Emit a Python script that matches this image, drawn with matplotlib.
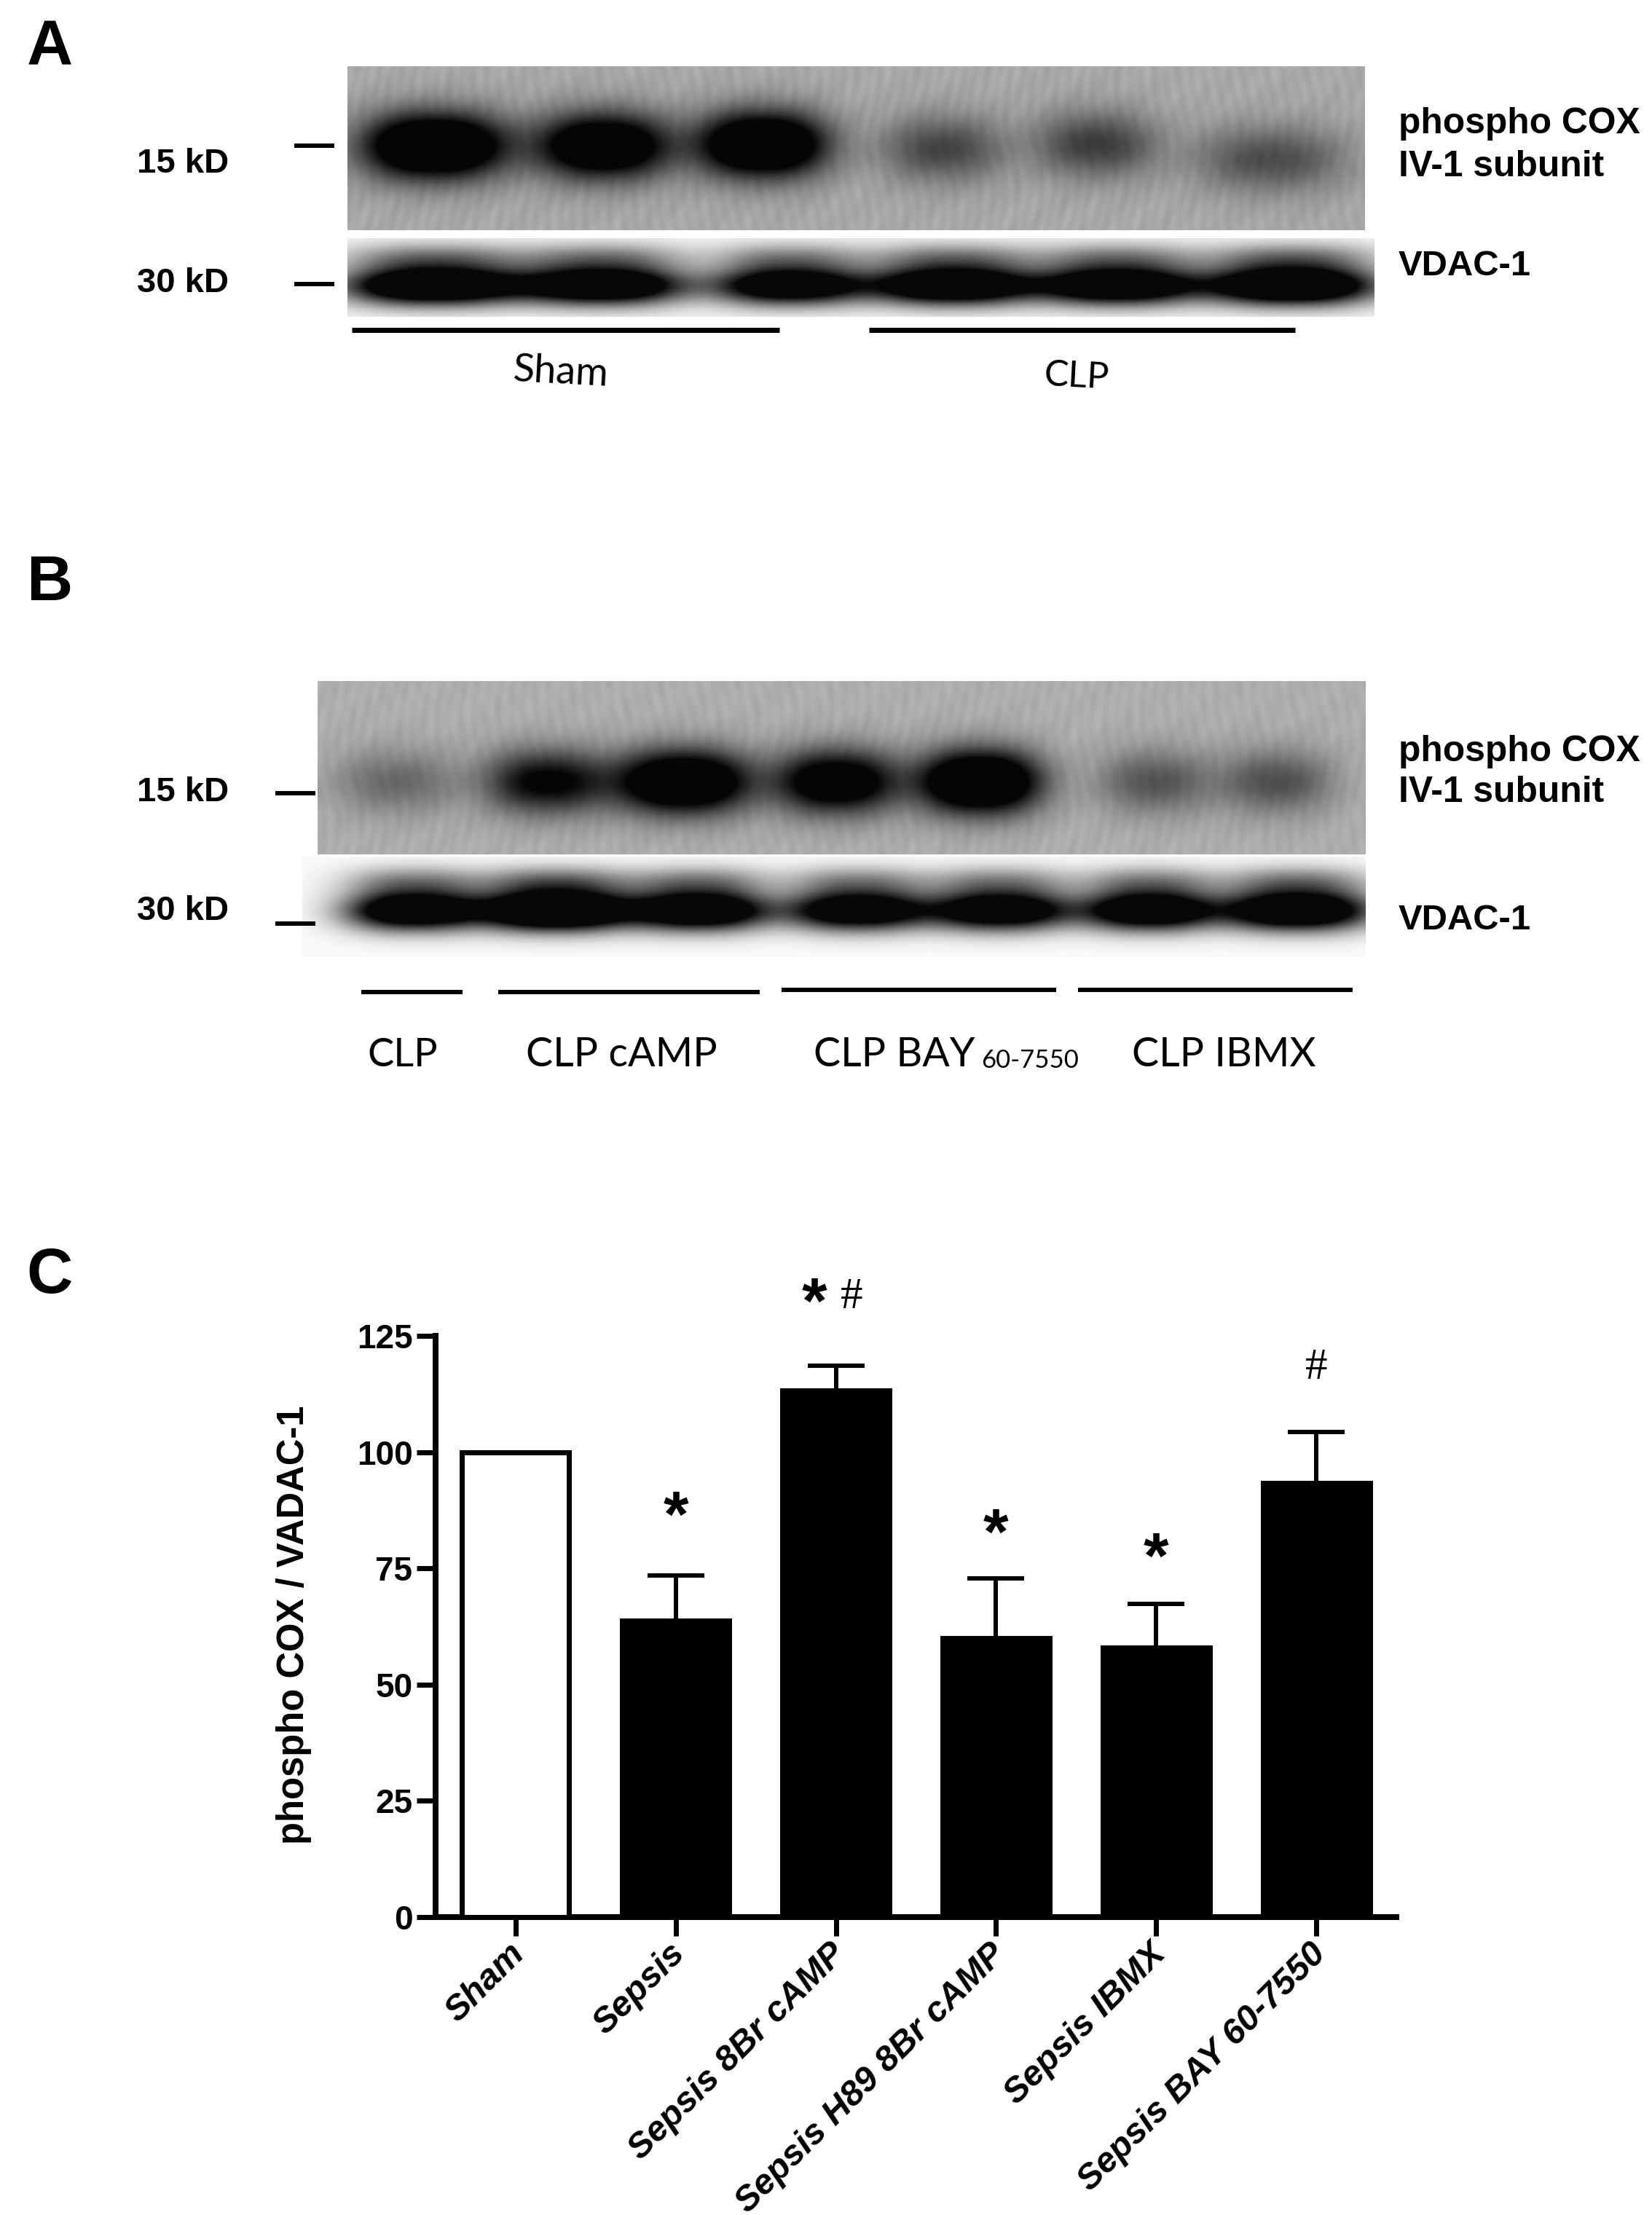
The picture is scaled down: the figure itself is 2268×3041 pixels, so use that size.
import numpy as np
import matplotlib
matplotlib.use("Agg")
import matplotlib.pyplot as plt
from matplotlib.transforms import ScaledTranslation

# ---- chart values (panel C) ----
groups = ["Sham", "Sepsis", "Sepsis 8Br cAMP", "Sepsis H89 8Br cAMP", "Sepsis IBMX", "Sepsis BAY 60-7550"]
means = [100, 63.8, 113.3, 60, 58, 93.4]
err_top = [100, 73.5, 118.6, 72.8, 67.3, 104.3]
bar_fill = ["white", "black", "black", "black", "black", "black"]
y_ticks = [0, 25, 50, 75, 100, 125]
star_groups = [1, 2, 3, 4]
star_y = [85.5, 131.5, 81.8, 76.6]
hash_groups = [2, 5]
hash_y = [133.3, 118.0]

# ---- blot lane intensities ----
a_top_amp = [1.7, 1.5, 1.65, 0.6, 0.65, 0.55]
a_vdac_amp = [1.6, 1.5, 1.4, 1.55, 1.5, 1.65]
b_top_amp = [0.4, 1.05, 1.6, 1.35, 1.7, 0.52, 0.55]
b_vdac_amp = [1.45, 1.8, 1.5, 1.4, 1.4, 1.45, 1.55]

# ---- layout (pixels of the 2268x3041 page) ----
W, H = 2268, 3041
DPI = 100
PT = 72 / DPI
a_top_x = [596, 828, 1047, 1294, 1504, 1744]
a_top_yc = [200, 200, 198, 204, 198, 218]
a_top_sx = [100, 92, 90, 85, 85, 105]
a_vdac_x = [596, 828, 1083, 1308, 1534, 1773]
a_vdac_sx = [122, 112, 102, 112, 108, 116]
b_top_x = [545, 750, 938, 1148, 1345, 1585, 1752]
b_top_sx = [85, 84, 92, 84, 84, 78, 78]
b_vdac_x = [567, 763, 960, 1177, 1373, 1577, 1780]
b_vdac_sx = [92, 102, 94, 96, 96, 90, 102]

SANS = "Liberation Sans"
SERIF = "Liberation Serif"
LAB = "Lato"

fig = plt.figure(figsize=(W / DPI, H / DPI), dpi=DPI, facecolor="white")
page = fig.add_axes([0, 0, 1, 1])
page.set_xlim(0, W)
page.set_ylim(H, 0)
page.axis("off")


def blot(box, xs, ycs, sxs, amps, sy, bg, upper=0.0, grain=0.0):
    x0, x1, y0, y1 = box
    X, Y = np.meshgrid(np.arange(x0, x1), np.arange(y0, y1))
    d = np.zeros(X.shape)
    for xc, yc, sx, a in zip(xs, ycs, sxs, amps):
        gx = np.exp(-np.abs((X - xc) / sx) ** 2.4)
        d += a * gx * np.exp(-((Y - yc) / sy) ** 2)
        if upper:
            d += upper * a * gx * np.exp(-((Y - yc + 1.5 * sy) / (0.8 * sy)) ** 2)
    # soft mottling of the film background
    tex = grain * (np.sin(X * 0.23 + 2.5 * np.sin(Y * 0.043)) * np.sin(Y * 0.061 + X * 0.017)
                   + np.sin(X * 0.37 + 3.1 * np.sin(Y * 0.029 + X * 0.007))
                   + 0.6 * np.sin(X * 0.071 + Y * 0.097))
    img = (bg + tex) * (1 - np.clip(d, 0, 0.97))
    page.imshow(img, extent=(x0, x1, y1, y0), cmap="gray", vmin=0, vmax=1,
                aspect="auto", interpolation="bilinear", zorder=1)


blot((477, 1874, 91, 316), a_top_x, a_top_yc, a_top_sx, a_top_amp, 46, 0.66, grain=0.014)
blot((477, 1887, 327, 435), a_vdac_x, [392] * 6, a_vdac_sx, a_vdac_amp, 26, 0.97, upper=0.3)
blot((436, 1875, 935, 1173), b_top_x, [1073] * 7, b_top_sx, b_top_amp, 44, 0.68, grain=0.012)
blot((415, 1875, 1176, 1314), b_vdac_x, [1250] * 7, b_vdac_sx, b_vdac_amp, 27, 0.98, upper=0.3)
page.set_xlim(0, W)
page.set_ylim(H, 0)


def rule(x0, x1, y, t):
    page.plot([x0, x1], [y, y], color="black", lw=t * PT, solid_capstyle="butt", zorder=2)


def label(x, y, s, size, ha="left", weight="bold", family=SANS, rot=0):
    page.text(x, y, s, fontsize=size, ha=ha, va="center", fontweight=weight,
              family=family, rotation=rot, color="black", zorder=3)


# panel letters
for letter, ly in zip("ABC", [66, 801, 1752]):
    label(68, ly, letter, 63, ha="center")

# panel A
rule(404, 459, 200, 6)
rule(404, 459, 390, 6)
label(188, 225, "15 kD", 34)
label(188, 389, "30 kD", 34)
label(1920, 170, "phospho COX", 35.8)
label(1920, 229, "IV-1 subunit", 35.8)
label(1920, 366, "VDAC-1", 35.3)
rule(483, 1070, 453, 7)
rule(1193, 1778, 453, 7)
label(770, 511, "Sham", 39, ha="center", weight="normal", family=LAB, rot=-3)
label(1478, 517, "CLP", 36, ha="center", weight="normal", family=LAB, rot=-3)

# panel B
rule(378, 433, 1089, 6)
rule(378, 433, 1268, 6)
label(188, 1088, "15 kD", 34)
label(188, 1251, "30 kD", 34)
label(1920, 1032, "phospho COX", 35.8)
label(1920, 1088, "IV-1 subunit", 35.8)
label(1920, 1263, "VDAC-1", 35.3)
rule(496, 635, 1362, 6)
rule(684, 1043, 1362, 6)
rule(1073, 1450, 1359, 6)
rule(1480, 1857, 1359, 6)
label(553, 1448, "CLP", 39, ha="center", weight="normal", family=LAB)
label(853, 1448, "CLP cAMP", 40, ha="center", weight="normal", family=LAB)
label(1117, 1448, "CLP BAY", 40, weight="normal", family=LAB)
label(1347, 1456, "60-7550", 25, weight="normal", family=LAB)
label(1680, 1448, "CLP IBMX", 40, ha="center", weight="normal", family=LAB)

# panel C
AX_L, AX_R, AX_T, AX_B = 598, 1917, 1834, 2632
ax = fig.add_axes([AX_L / W, 1 - AX_B / H, (AX_R - AX_L) / W, (AX_B - AX_T) / H])
ax.patch.set_alpha(0)
pos = np.arange(len(groups))
lw = 7 * PT
ax.bar(pos, means, width=0.665, color=bar_fill, edgecolor="black", linewidth=lw, zorder=3)
ax.errorbar(pos[1:], means[1:],
            yerr=[np.zeros(len(means) - 1), np.array(err_top[1:]) - np.array(means[1:])],
            fmt="none", ecolor="black", elinewidth=6 * PT, capsize=39 * PT,
            capthick=6 * PT, zorder=2)
ax.set_xlim(-0.498, 5.498)
ax.set_ylim(0, 125)
for side in ("top", "right"):
    ax.spines[side].set_visible(False)
for side in ("left", "bottom"):
    ax.spines[side].set_linewidth(8 * PT)
ax.set_yticks(y_ticks)
ax.set_xticks(pos)
ax.tick_params(axis="both", length=26 * PT, width=7 * PT, color="black", pad=4)
for t in ax.get_yticklabels():
    t.set_fontfamily(SANS)
    t.set_fontweight("bold")
    t.set_fontsize(33)
ax.set_xticklabels(groups, rotation=45, ha="right", rotation_mode="anchor",
                   fontfamily=SANS, fontweight="bold", fontstyle="italic", fontsize=35)
shift = ScaledTranslation(-10 / DPI, 4 / DPI, fig.dpi_scale_trans)
for t in ax.get_xticklabels():
    t.set_transform(t.get_transform() + shift)
ax.set_ylabel("phospho COX / VADAC-1", fontfamily=SANS, fontweight="bold", fontsize=36.5)
ax.yaxis.set_label_coords((428 - AX_L) / (AX_R - AX_L), (AX_B - 2231) / (AX_B - AX_T))
for g, yv in zip(star_groups, star_y):
    ax.text(g - (0.136 if g == 2 else 0), yv, "*", fontsize=64, fontweight="bold", fontfamily=SANS,
            ha="center", va="center", clip_on=False)
for g, yv in zip(hash_groups, hash_y):
    ax.text(g + (0.10 if g == 2 else 0), yv, "#", fontsize=44, fontfamily=SERIF, ha="center",
            va="center", clip_on=False)

fig.savefig("out.png", dpi=DPI, facecolor="white")
